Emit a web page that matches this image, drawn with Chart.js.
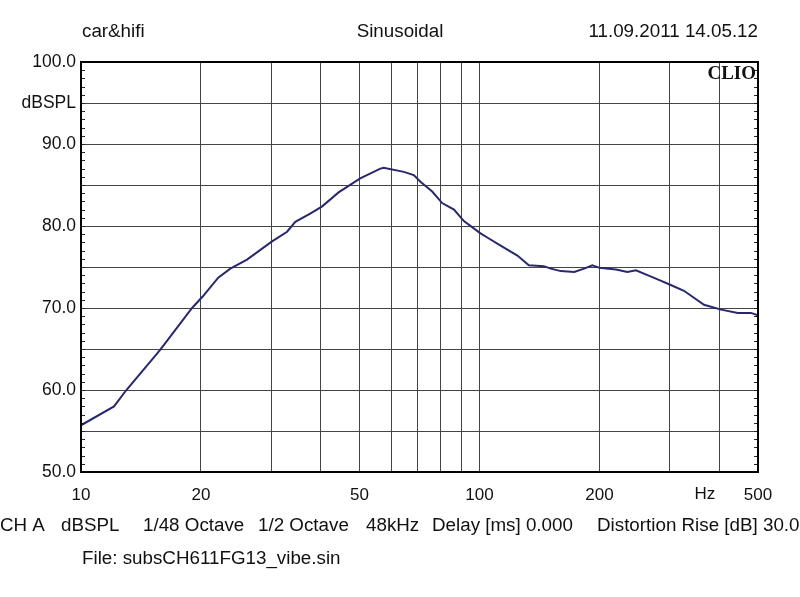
<!DOCTYPE html>
<html>
<head>
<meta charset="utf-8">
<script src="https://cdn.jsdelivr.net/npm/chart.js@4.4.0/dist/chart.umd.min.js"></script>
<style>
  body { margin: 0; background: #fff; }
  canvas { display: block; }
</style>
</head>
<body>
<canvas id="mychart" width="800" height="597"></canvas>
<script>
// frequency response (Hz / dB SPL)
const freq = [10, 12.1, 13, 15.8, 19, 20.2, 22.1, 23.7, 26.1, 30.1,
              32.9, 34.5, 37.6, 40.3, 44.3, 50.2, 56.4, 57.5, 64.6, 68.4,
              71.1, 76.1, 80.6, 86.3, 91.4, 100.6, 104.6, 113, 124.5, 133,
              145, 151, 160, 173, 183, 192, 200, 220, 235, 247,
              280, 302, 326, 366, 404, 445, 480, 500];
const spl = [55.7, 58.0, 60.0, 64.9, 70.0, 71.4, 73.7, 74.8, 75.9, 78.1,
             79.3, 80.5, 81.5, 82.4, 84.1, 85.8, 87.0, 87.1, 86.6, 86.2,
             85.4, 84.2, 82.8, 82.0, 80.6, 79.1, 78.6, 77.6, 76.4, 75.2,
             75.1, 74.8, 74.5, 74.4, 74.8, 75.2, 74.9, 74.7, 74.4, 74.6,
             73.5, 72.8, 72.1, 70.4, 69.8, 69.4, 69.4, 69.1];

const xGrid = [10, 20, 30, 40, 50, 60, 70, 80, 90, 100, 200, 300, 400, 500];
const xLabels = [10, 20, 50, 100, 200, 500];
const yMin = 50, yMax = 100, yStep = 5;
const yUnit = 'dBSPL';

const headLeft = 'car&hifi';
const headMid = 'Sinusoidal';
const headRight = '11.09.2011 14.05.12';
const footItems = ['CH A', 'dBSPL', '1/48 Octave', '1/2 Octave', '48kHz', 'Delay [ms] 0.000', 'Distortion Rise [dB] 30.00'];
const footX = [0, 61, 143, 258, 366, 432, 597];
const fileLine = 'File: subsCH611FG13_vibe.sin';

const FONT = '"Liberation Sans", Arial, sans-serif';

const decor = {
    id: 'decor',
    afterDraw(chart) {
        const c = chart.ctx;
        const a = chart.chartArea;
        const ys = chart.scales.y;
        const xs = chart.scales.x;
        c.save();
        // minor ticks left / right
        c.strokeStyle = '#222';
        c.lineWidth = 1;
        for (let v = yMin; v <= yMax; v++) {
            const y = Math.round(ys.getPixelForValue(v)) + 0.5;
            c.beginPath();
            c.moveTo(a.left, y); c.lineTo(a.left + 4, y);
            c.moveTo(a.right - 4, y); c.lineTo(a.right, y);
            c.stroke();
        }
        // frame
        c.strokeStyle = '#000';
        c.lineWidth = 2;
        c.strokeRect(a.left, a.top, a.right - a.left, a.bottom - a.top);

        // header
        c.fillStyle = '#111';
        c.font = '18.8px ' + FONT;
        c.textBaseline = 'middle';
        c.textAlign = 'left';
        c.fillText(headLeft, 82, 32);
        c.textAlign = 'center';
        c.fillText(headMid, 400, 32);
        c.textAlign = 'right';
        c.fillText(headRight, 758, 32);

        // footer
        c.textAlign = 'left';
        footItems.forEach((t, i) => c.fillText(t, footX[i], 526));
        c.fillText(fileLine, 82, 559);

        // Hz label
        c.font = '17px ' + FONT;
        c.textAlign = 'center';
        c.fillText('Hz', xs.getPixelForValue(368), 494);

        // CLIO
        c.font = 'bold 19px "Liberation Serif", "DejaVu Serif", serif';
        c.textAlign = 'right';
        c.textBaseline = 'alphabetic';
        c.fillText('CLIO', 756, 79);
        c.restore();
    }
};

const ctx = document.getElementById('mychart');
const myChart = new Chart(ctx, {
    type: 'line',
    data: {
        datasets: [{
            data: freq.map((f, i) => ({ x: f, y: spl[i] })),
            borderColor: '#28286c',
            borderWidth: 2,
            pointRadius: 0,
            tension: 0,
            fill: false
        }]
    },
    plugins: [decor],
    options: {
        responsive: false,
        devicePixelRatio: 1,
        animation: false,
        events: [],
        layout: { padding: { left: 0, right: 42, top: 62, bottom: 85 } },
        scales: {
            x: {
                type: 'logarithmic',
                min: 10,
                max: 500,
                afterBuildTicks: s => { s.ticks = xGrid.map(v => ({ value: v })); },
                afterFit: s => { s.height = 40; },
                grid: { color: '#444', lineWidth: 1, drawTicks: false },
                border: { display: true, color: '#000', width: 2 },
                ticks: {
                    autoSkip: false,
                    maxRotation: 0,
                    padding: 13,
                    color: '#111',
                    font: { family: FONT, size: 17 },
                    callback: v => xLabels.includes(v) ? String(v) : ''
                }
            },
            y: {
                min: yMin,
                max: yMax,
                afterFit: s => { s.width = 81; },
                grid: { color: '#444', lineWidth: 1, drawTicks: false },
                border: { display: true, color: '#000', width: 2 },
                ticks: {
                    stepSize: yStep,
                    padding: 5,
                    color: '#111',
                    font: { family: FONT, size: 17.5 },
                    callback: v => v === 95 ? yUnit : (v % 10 === 0 ? v.toFixed(1) : '')
                }
            }
        },
        plugins: {
            legend: { display: false },
            tooltip: { enabled: false }
        }
    }
});
</script>
</body>
</html>
